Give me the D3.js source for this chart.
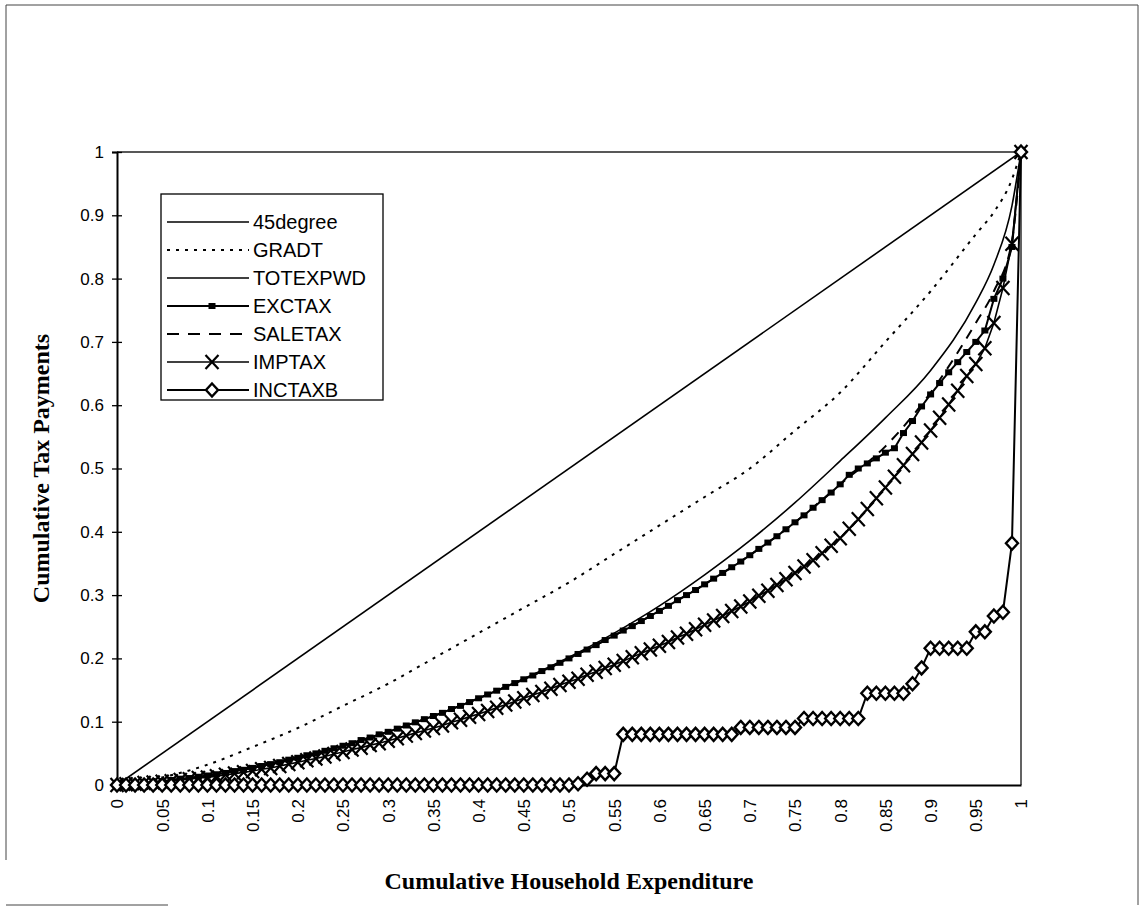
<!DOCTYPE html>
<html>
<head>
<meta charset="utf-8">
<script src="https://cdn.jsdelivr.net/npm/d3@7/dist/d3.min.js"></script>
<style>
  body { margin: 0; background: #fff; }
  svg { display: block; }
</style>
</head>
<body>
<div id="chart"></div>
<script>

// category axis: household expenditure shares, one point per percentile
const categories = [
  0, 0.01, 0.02, 0.03, 0.04, 0.05, 0.06, 0.07, 0.08, 0.09,
  0.1, 0.11, 0.12, 0.13, 0.14, 0.15, 0.16, 0.17, 0.18, 0.19,
  0.2, 0.21, 0.22, 0.23, 0.24, 0.25, 0.26, 0.27, 0.28, 0.29,
  0.3, 0.31, 0.32, 0.33, 0.34, 0.35, 0.36, 0.37, 0.38, 0.39,
  0.4, 0.41, 0.42, 0.43, 0.44, 0.45, 0.46, 0.47, 0.48, 0.49,
  0.5, 0.51, 0.52, 0.53, 0.54, 0.55, 0.56, 0.57, 0.58, 0.59,
  0.6, 0.61, 0.62, 0.63, 0.64, 0.65, 0.66, 0.67, 0.68, 0.69,
  0.7, 0.71, 0.72, 0.73, 0.74, 0.75, 0.76, 0.77, 0.78, 0.79,
  0.8, 0.81, 0.82, 0.83, 0.84, 0.85, 0.86, 0.87, 0.88, 0.89,
  0.9, 0.91, 0.92, 0.93, 0.94, 0.95, 0.96, 0.97, 0.98, 0.99, 1
];

// coarser sampling for the plain (marker-less) curves
const coarseX = [0, 0.05, 0.1, 0.15, 0.2, 0.25, 0.3, 0.35, 0.4, 0.45, 0.5,
  0.55, 0.6, 0.65, 0.7, 0.75, 0.8, 0.85, 0.9, 0.95, 0.97, 0.99, 1];

const xTickLabels = ['0', '0.05', '0.1', '0.15', '0.2', '0.25', '0.3', '0.35', '0.4', '0.45', '0.5',
  '0.55', '0.6', '0.65', '0.7', '0.75', '0.8', '0.85', '0.9', '0.95', '1'];
const yTickValues = [0, 0.1, 0.2, 0.3, 0.4, 0.5, 0.6, 0.7, 0.8, 0.9, 1];

const deg45X = [0, 1];
const deg45 = [0, 1];

const gradt = [0, 0.012, 0.032, 0.06, 0.09, 0.125, 0.16, 0.2, 0.24, 0.28, 0.32,
  0.365, 0.41, 0.455, 0.5, 0.56, 0.62, 0.7, 0.78, 0.87, 0.905, 0.957, 1];

const totexpwd = [0, 0.006, 0.015, 0.027, 0.043, 0.062, 0.084, 0.109, 0.137, 0.168, 0.202,
  0.24, 0.283, 0.332, 0.386, 0.446, 0.512, 0.58, 0.655, 0.762, 0.822, 0.915, 1];

const saletax = [0, 0.006, 0.015, 0.027, 0.043, 0.062, 0.084, 0.109, 0.137, 0.167, 0.2,
  0.236, 0.275, 0.317, 0.363, 0.415, 0.475, 0.535, 0.62, 0.73, 0.78, 0.86, 1];

const exctax = [
  0, 0.001, 0.002, 0.003, 0.005, 0.006, 0.008, 0.010, 0.011, 0.013,
  0.015, 0.017, 0.019, 0.022, 0.024, 0.027, 0.030, 0.033, 0.036, 0.040,
  0.043, 0.047, 0.050, 0.054, 0.058, 0.062, 0.066, 0.071, 0.075, 0.080,
  0.084, 0.089, 0.094, 0.099, 0.104, 0.109, 0.114, 0.120, 0.125, 0.131,
  0.137, 0.143, 0.149, 0.155, 0.161, 0.167, 0.173, 0.180, 0.186, 0.193,
  0.200, 0.207, 0.214, 0.221, 0.229, 0.236, 0.244, 0.251, 0.259, 0.267,
  0.275, 0.283, 0.292, 0.300, 0.308, 0.317, 0.326, 0.335, 0.344, 0.353,
  0.363, 0.373, 0.383, 0.393, 0.404, 0.415, 0.426, 0.438, 0.450, 0.462,
  0.475, 0.490, 0.500, 0.508, 0.516, 0.525, 0.532, 0.556, 0.575, 0.598,
  0.617, 0.635, 0.652, 0.668, 0.684, 0.700, 0.718, 0.768, 0.800, 0.850, 1
];

const imptax = [
  0, 0.001, 0.002, 0.003, 0.004, 0.005, 0.006, 0.008, 0.009, 0.011,
  0.012, 0.014, 0.016, 0.018, 0.020, 0.022, 0.025, 0.027, 0.030, 0.033,
  0.036, 0.039, 0.042, 0.045, 0.049, 0.052, 0.056, 0.059, 0.063, 0.066,
  0.070, 0.074, 0.078, 0.082, 0.086, 0.090, 0.094, 0.099, 0.103, 0.108,
  0.112, 0.117, 0.122, 0.127, 0.132, 0.137, 0.142, 0.147, 0.152, 0.158,
  0.163, 0.168, 0.174, 0.179, 0.185, 0.190, 0.196, 0.202, 0.208, 0.214,
  0.220, 0.226, 0.233, 0.239, 0.246, 0.253, 0.260, 0.267, 0.275, 0.282,
  0.290, 0.299, 0.307, 0.316, 0.325, 0.335, 0.345, 0.355, 0.366, 0.378,
  0.390, 0.405, 0.420, 0.436, 0.453, 0.470, 0.487, 0.505, 0.523, 0.541,
  0.560, 0.580, 0.601, 0.623, 0.646, 0.665, 0.690, 0.730, 0.785, 0.855, 1
];

const inctaxb = [
  0, 0, 0, 0, 0, 0, 0, 0, 0, 0,
  0, 0, 0, 0, 0, 0, 0, 0, 0, 0,
  0, 0, 0, 0, 0, 0, 0, 0, 0, 0,
  0, 0, 0, 0, 0, 0, 0, 0, 0, 0,
  0, 0, 0, 0, 0, 0, 0, 0, 0, 0,
  0, 0.002, 0.009, 0.018, 0.018, 0.018, 0.08, 0.08, 0.08, 0.08,
  0.08, 0.08, 0.08, 0.08, 0.08, 0.08, 0.08, 0.08, 0.08, 0.091,
  0.091, 0.091, 0.091, 0.091, 0.091, 0.091, 0.105, 0.105, 0.105, 0.105,
  0.105, 0.105, 0.105, 0.145, 0.145, 0.145, 0.145, 0.145, 0.16, 0.185,
  0.216, 0.216, 0.216, 0.216, 0.216, 0.242, 0.242, 0.267, 0.273, 0.382, 1
];

const W = 1144, H = 907;
const margin = { top: 152, right: 123, bottom: 122, left: 117 };
const width = W - margin.left - margin.right;
const height = H - margin.top - margin.bottom;

const svg = d3.select('#chart').append('svg')
  .attr('width', W)
  .attr('height', H);

// scanned page frame (only partly visible in the scan)
svg.append('path')
  .attr('d', 'M6,860V5H1138V905M6,905H168')
  .attr('fill', 'none')
  .attr('stroke', '#444')
  .attr('stroke-width', 1);

const g = svg.append('g')
  .attr('transform', 'translate(' + margin.left + ',' + margin.top + ')');

const x = d3.scaleLinear().domain([0, 1]).range([0, width]);
const y = d3.scaleLinear().domain([0, 1]).range([height, 0]);

// plot area frame (top + right)
g.append('path')
  .attr('d', 'M0,0H' + width + 'V' + height)
  .attr('fill', 'none')
  .attr('stroke', '#222')
  .attr('stroke-width', 1.4);

// y axis
const yAxis = g.append('g')
  .call(d3.axisLeft(y).tickValues(yTickValues).tickSize(5).tickPadding(8)
    .tickFormat(d3.format('~g')));
yAxis.select('.domain').attr('stroke', '#000').attr('stroke-width', 2);
yAxis.selectAll('.tick line').attr('x2', 5).attr('x1', -5).attr('stroke-width', 1.3);
yAxis.selectAll('.tick text')
  .attr('font-family', 'Liberation Sans, Arial, sans-serif')
  .attr('font-size', 17)
  .attr('fill', '#000');

// x axis (category style, labels every 5th point, rotated)
const xAxis = g.append('g')
  .attr('transform', 'translate(0,' + height + ')')
  .call(d3.axisBottom(x).tickValues(xTickLabels.map(Number)).tickSize(0)
    .tickFormat((d, i) => xTickLabels[i]));
xAxis.select('.domain').attr('stroke', '#000').attr('stroke-width', 2);
xAxis.selectAll('.tick text')
  .attr('font-family', 'Liberation Sans, Arial, sans-serif')
  .attr('font-size', 17)
  .attr('fill', '#000')
  .attr('text-anchor', 'end')
  .attr('dy', '0.35em')
  .attr('transform', 'translate(0,14) rotate(-90)')
  .attr('x', 0)
  .attr('y', 0);

// axis titles
svg.append('text')
  .attr('x', margin.left + width / 2)
  .attr('y', 889)
  .attr('text-anchor', 'middle')
  .attr('font-family', 'Liberation Serif, Times New Roman, serif')
  .attr('font-weight', 'bold')
  .attr('font-size', 24)
  .text('Cumulative Household Expenditure');

svg.append('text')
  .attr('transform', 'translate(49,' + (margin.top + height / 2) + ') rotate(-90)')
  .attr('text-anchor', 'middle')
  .attr('font-family', 'Liberation Serif, Times New Roman, serif')
  .attr('font-weight', 'bold')
  .attr('font-size', 24)
  .text('Cumulative Tax Payments');

const lineGen = (xs, curve) => d3.line()
  .x((d, i) => x(xs[i]))
  .y(d => y(d))
  .curve(curve || d3.curveLinear);

const drawLine = (xs, ys, style, curve) => {
  g.append('path')
    .datum(ys)
    .attr('d', lineGen(xs, curve))
    .attr('fill', 'none')
    .attr('stroke', '#000')
    .attr('stroke-width', style.width)
    .attr('stroke-dasharray', style.dash || null);
};

const squareMarker = (sel) => sel.append('rect')
  .attr('x', -3.5).attr('y', -3).attr('width', 7).attr('height', 6)
  .attr('fill', '#000');
const crossMarker = (sel) => sel.append('path')
  .attr('d', 'M-6.5,-7L6.5,7M-6.5,7L6.5,-7')
  .attr('stroke', '#000').attr('stroke-width', 2.2).attr('fill', 'none');
const diamondMarker = (sel) => sel.append('path')
  .attr('d', 'M0,-6.5L6,0L0,6.5L-6,0Z')
  .attr('stroke', '#000').attr('stroke-width', 2.4).attr('fill', '#fff');

const drawMarkers = (xs, ys, marker) => {
  const m = g.append('g').selectAll('g')
    .data(ys)
    .join('g')
    .attr('transform', (d, i) => 'translate(' + x(xs[i]) + ',' + y(d) + ')');
  marker(m);
};

// series
drawLine(deg45X, deg45, { width: 1.6 });
drawLine(coarseX, gradt, { width: 2, dash: '3,6' }, d3.curveMonotoneX);
drawLine(coarseX, totexpwd, { width: 1.6 }, d3.curveMonotoneX);
drawLine(categories, exctax, { width: 2 });
drawMarkers(categories, exctax, squareMarker);
drawLine(coarseX, saletax, { width: 2, dash: '10,8' }, d3.curveMonotoneX);
drawLine(categories, imptax, { width: 1.6 });
drawMarkers(categories, imptax, crossMarker);
drawLine(categories, inctaxb, { width: 2 });
drawMarkers(categories, inctaxb, diamondMarker);

// legend
const legendItems = [
  { name: '45degree', width: 1.6 },
  { name: 'GRADT', width: 2, dash: '3,6' },
  { name: 'TOTEXPWD', width: 1.6 },
  { name: 'EXCTAX', width: 2, marker: squareMarker },
  { name: 'SALETAX', width: 2.2, dash: '12,9' },
  { name: 'IMPTAX', width: 1.6, marker: crossMarker },
  { name: 'INCTAXB', width: 2, marker: diamondMarker }
];

const legend = svg.append('g').attr('transform', 'translate(161,194)');
legend.append('rect')
  .attr('width', 222).attr('height', 206)
  .attr('fill', '#fff')
  .attr('stroke', '#000')
  .attr('stroke-width', 1.3);

const rows = legend.selectAll('g.item')
  .data(legendItems)
  .join('g')
  .attr('class', 'item')
  .attr('transform', (d, i) => 'translate(0,' + (28 + i * 28) + ')');

rows.append('line')
  .attr('x1', 6).attr('x2', 88)
  .attr('stroke', '#000')
  .attr('stroke-width', d => d.width)
  .attr('stroke-dasharray', d => d.dash || null);

rows.each(function(d) {
  if (d.marker) {
    const m = d3.select(this).append('g').attr('transform', 'translate(51,0)');
    d.marker(m);
  }
});

rows.append('text')
  .attr('x', 92)
  .attr('dy', '0.36em')
  .attr('font-family', 'Liberation Sans, Arial, sans-serif')
  .attr('font-size', 20)
  .text(d => d.name);

</script>
</body>
</html>
